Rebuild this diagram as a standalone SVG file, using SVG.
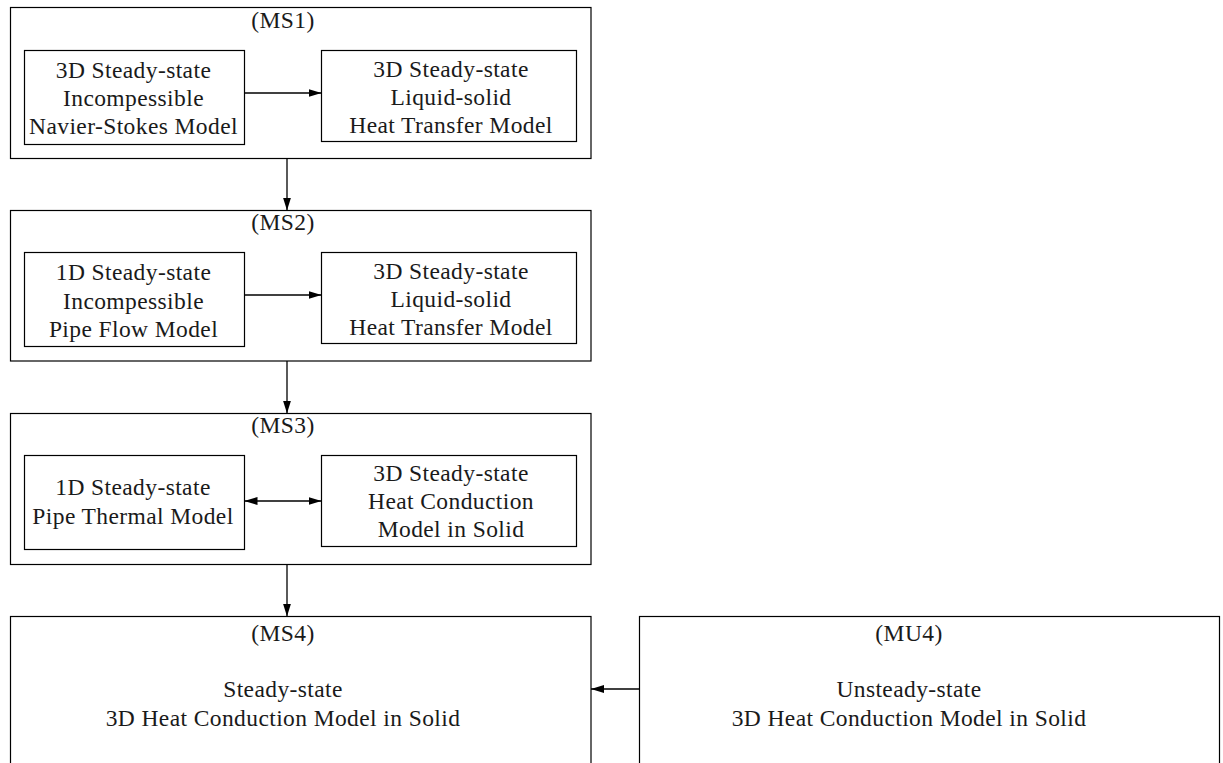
<svg xmlns="http://www.w3.org/2000/svg" width="1223" height="763" viewBox="0 0 1223 763">
  <style>
    .box { fill: #ffffff; stroke: #000000; stroke-width: 1.2; }
    .lbl { font-family: "Liberation Serif", "Times New Roman", "DejaVu Serif", serif; font-size: 23.5px; letter-spacing: 0.4px; fill: #1a1a1a; text-anchor: middle; }
    .edge { fill: none; stroke: #000000; stroke-width: 1.3; }
  </style>
  <defs>
    <marker id="head" viewBox="0 0 13 8" refX="13" refY="4" markerWidth="13" markerHeight="8" markerUnits="userSpaceOnUse" orient="auto-start-reverse">
      <path d="M0,0 L13,4 L0,8 Z" fill="#000000"/>
    </marker>
  </defs>
  <rect width="1223" height="763" fill="#ffffff"/>

  <!-- MS1 -->
  <g id="ms1">
    <rect class="box" x="10.5" y="7.5" width="580.5" height="151"/>
    <text class="lbl" x="283" y="28">(MS1)</text>
  </g>
  <g id="ms1-flow">
    <rect class="box" x="24.5" y="50.5" width="220" height="94"/>
    <text class="lbl" x="133.5" y="78">3D Steady-state</text>
    <text class="lbl" x="133.5" y="106">Incompessible</text>
    <text class="lbl" x="133.5" y="134">Navier-Stokes Model</text>
  </g>
  <g id="ms1-heat">
    <rect class="box" x="321.5" y="50.5" width="255" height="91"/>
    <text class="lbl" x="451" y="77">3D Steady-state</text>
    <text class="lbl" x="451" y="105">Liquid-solid</text>
    <text class="lbl" x="451" y="133">Heat Transfer Model</text>
  </g>

  <!-- MS2 -->
  <g id="ms2">
    <rect class="box" x="10.5" y="210.5" width="580.5" height="150.5"/>
    <text class="lbl" x="283" y="230">(MS2)</text>
  </g>
  <g id="ms2-flow">
    <rect class="box" x="24.5" y="252.5" width="220" height="94"/>
    <text class="lbl" x="133.5" y="280">1D Steady-state</text>
    <text class="lbl" x="133.5" y="309">Incompessible</text>
    <text class="lbl" x="133.5" y="337">Pipe Flow Model</text>
  </g>
  <g id="ms2-heat">
    <rect class="box" x="321.5" y="252.5" width="255" height="91"/>
    <text class="lbl" x="451" y="279">3D Steady-state</text>
    <text class="lbl" x="451" y="307">Liquid-solid</text>
    <text class="lbl" x="451" y="335">Heat Transfer Model</text>
  </g>

  <!-- MS3 -->
  <g id="ms3">
    <rect class="box" x="10.5" y="413.5" width="580.5" height="151"/>
    <text class="lbl" x="283" y="433">(MS3)</text>
  </g>
  <g id="ms3-pipe">
    <rect class="box" x="24.5" y="455.5" width="220" height="94"/>
    <text class="lbl" x="133" y="495">1D Steady-state</text>
    <text class="lbl" x="133" y="524">Pipe Thermal Model</text>
  </g>
  <g id="ms3-solid">
    <rect class="box" x="321.5" y="455.5" width="255" height="91"/>
    <text class="lbl" x="451" y="481">3D Steady-state</text>
    <text class="lbl" x="451" y="509">Heat Conduction</text>
    <text class="lbl" x="451" y="537">Model in Solid</text>
  </g>

  <!-- MS4 and MU4 -->
  <g id="ms4">
    <rect class="box" x="10.5" y="616.5" width="580.5" height="160"/>
    <text class="lbl" x="283" y="641">(MS4)</text>
    <text class="lbl" x="283" y="697">Steady-state</text>
    <text class="lbl" x="283" y="726">3D Heat Conduction Model in Solid</text>
  </g>
  <g id="mu4">
    <rect class="box" x="639.5" y="616.5" width="580" height="160"/>
    <text class="lbl" x="909" y="641">(MU4)</text>
    <text class="lbl" x="909" y="697">Unsteady-state</text>
    <text class="lbl" x="909" y="726">3D Heat Conduction Model in Solid</text>
  </g>

  <!-- connectors -->
  <g id="connectors">
    <line class="edge" x1="244.5" y1="93" x2="321.5" y2="93" marker-end="url(#head)"/>
    <line class="edge" x1="244.5" y1="295" x2="321.5" y2="295" marker-end="url(#head)"/>
    <line class="edge" x1="244.5" y1="501" x2="321.5" y2="501" marker-start="url(#head)" marker-end="url(#head)"/>
    <line class="edge" x1="287" y1="158.5" x2="287" y2="210.5" marker-end="url(#head)"/>
    <line class="edge" x1="287" y1="361" x2="287" y2="413.5" marker-end="url(#head)"/>
    <line class="edge" x1="287" y1="564.5" x2="287" y2="616.5" marker-end="url(#head)"/>
    <line class="edge" x1="639.5" y1="689" x2="591" y2="689" marker-end="url(#head)"/>
  </g>
</svg>
